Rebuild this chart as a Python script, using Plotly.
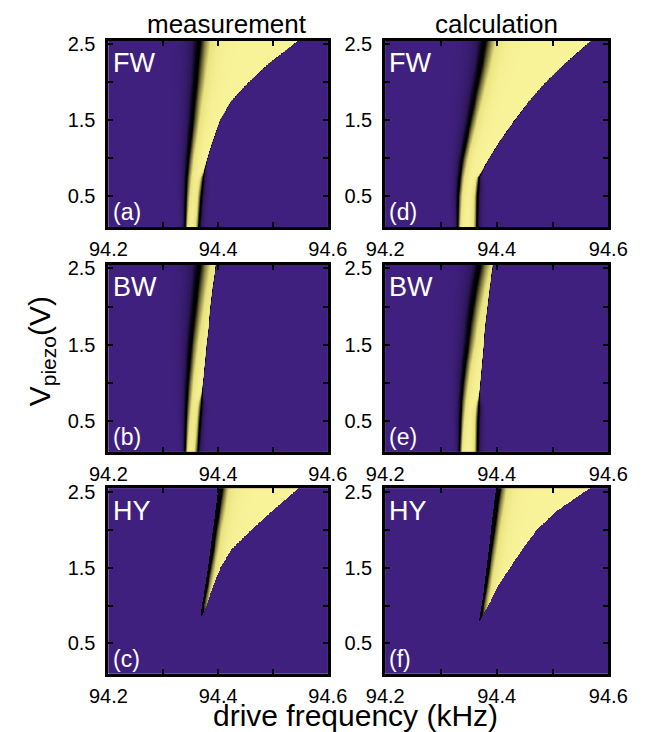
import numpy as np
import plotly.graph_objects as go

# ---------------- data ----------------
V_KNOTS = [0.1, 0.5, 0.75, 1.0, 1.25, 1.5, 1.75, 2.0, 2.25, 2.55]   # V_piezo (V)

# (a) forward sweep, measurement: centre of dark phase edge / jump frequency (kHz)
FW_MEAS_LEFT = [94.340, 94.342, 94.344, 94.347, 94.351, 94.355, 94.358, 94.362, 94.365, 94.369]
FW_MEAS_JUMP = [94.364, 94.368, 94.372, 94.380, 94.391, 94.403, 94.423, 94.455, 94.492, 94.546]
# (b) backward sweep, measurement
BW_MEAS_LEFT = [94.340, 94.342, 94.344, 94.346, 94.349, 94.352, 94.356, 94.360, 94.364, 94.369]
BW_MEAS_JUMP = [94.362, 94.366, 94.369, 94.372, 94.376, 94.379, 94.383, 94.386, 94.390, 94.396]
# (d) forward sweep, calculation
FW_CALC_LEFT = [94.331, 94.332, 94.335, 94.340, 94.347, 94.354, 94.361, 94.368, 94.375, 94.382]
FW_CALC_JUMP = [94.364, 94.365, 94.368, 94.386, 94.408, 94.432, 94.458, 94.488, 94.523, 94.570]
# (e) backward sweep, calculation
BW_CALC_LEFT = [94.334, 94.336, 94.338, 94.341, 94.345, 94.350, 94.354, 94.359, 94.365, 94.373]
BW_CALC_JUMP = [94.365, 94.366, 94.368, 94.371, 94.374, 94.377, 94.380, 94.384, 94.388, 94.394]

# (c) hysteresis region, measurement
HY_MEAS_V = [0.85, 1.0, 1.25, 1.5, 1.75, 2.0, 2.25, 2.55]
HY_MEAS_LEFT = [94.368, 94.370, 94.376, 94.381, 94.386, 94.390, 94.395, 94.400]
HY_MEAS_RIGHT = [94.369, 94.379, 94.390, 94.404, 94.425, 94.460, 94.498, 94.546]
# (f) hysteresis region, calculation
HY_CALC_V = [0.77, 1.0, 1.25, 1.5, 1.75, 2.0, 2.25, 2.55]
HY_CALC_LEFT = [94.368, 94.373, 94.378, 94.382, 94.386, 94.390, 94.394, 94.399]
HY_CALC_RIGHT = [94.368, 94.385, 94.402, 94.424, 94.447, 94.472, 94.508, 94.567]

ONSET_MEAS = 0.8
ONSET_CALC = 0.75

X_TICKS = [94.2, 94.4, 94.6]
X_MINOR = [94.3, 94.5]
Y_TICKS = [0.5, 1.5, 2.5]
Y_MINOR = [1.0, 2.0]
COL_TITLES = ["measurement", "calculation"]
SWEEP_LABELS = ["FW", "BW", "HY"]
PANEL_LETTERS = [["(a)", "(d)"], ["(b)", "(e)"], ["(c)", "(f)"]]

# ---------------- rendering grid ----------------
F = np.linspace(94.2, 94.6, 700)
V = np.linspace(0.1, 2.55, 300)
FF, VV = np.meshgrid(F, V)


def sig(x):
    return 1.0 / (1.0 + np.exp(-np.clip(x, -60, 60)))


def sweep_map(left, jump, onset):
    fl = np.interp(V, V_KNOTS, left)[:, None]
    fj = np.interp(V, V_KNOTS, jump)[:, None]
    w = (0.0025 + 0.0040 * V)[:, None]
    wr = (0.0004 + 0.0035 * sig((onset - V) / 0.05))[:, None]
    return sig((FF - fl) / w) * sig((fj - FF) / wr)


def hyst_map(hv, left, right):
    fl = np.interp(V, hv, left)[:, None]
    fr = np.interp(V, hv, right)[:, None]
    valid = (V >= hv[0])[:, None]
    d = (0.0028 * V)[:, None]
    w = (0.005 + 0.003 * V)[:, None]
    inside = (FF >= fl) & (FF <= fr) & valid
    z = 0.44 + 0.56 * (1 - np.exp(-np.maximum(FF - fl - d, 0) / w))
    fade = sig((V - hv[0] - 0.08) / 0.07)[:, None]
    z = 0.44 * (1 - fade) + z * fade
    return np.where(inside, z, 0.0)


Z = [
    [sweep_map(FW_MEAS_LEFT, FW_MEAS_JUMP, ONSET_MEAS), sweep_map(FW_CALC_LEFT, FW_CALC_JUMP, ONSET_CALC)],
    [sweep_map(BW_MEAS_LEFT, BW_MEAS_JUMP, ONSET_MEAS), sweep_map(BW_CALC_LEFT, BW_CALC_JUMP, ONSET_CALC)],
    [hyst_map(HY_MEAS_V, HY_MEAS_LEFT, HY_MEAS_RIGHT), hyst_map(HY_CALC_V, HY_CALC_LEFT, HY_CALC_RIGHT)],
]

PURPLE = "rgb(64,32,126)"
COLORSCALE = [
    [0.0, PURPLE],
    [0.22, "rgb(44,22,88)"],
    [0.38, "rgb(0,0,0)"],
    [0.48, "rgb(0,0,0)"],
    [0.62, "rgb(115,110,52)"],
    [0.8, "rgb(232,225,126)"],
    [1.0, "rgb(248,243,152)"],
]

W, H = 649, 732
XDOM = [[95 / W, 328 / W], [389 / W, 626 / W]]
YROWS = [(34, 222), (260, 449), (486, 673)]
YDOM = [[1 - b / H, 1 - t / H] for t, b in YROWS]

FONT = "Liberation Sans, Arial, Helvetica, sans-serif"

fig = go.Figure()
annotations = []
layout_axes = {}
idx = 0
for r in range(3):
    for c in range(2):
        idx += 1
        xa = "x" if idx == 1 else f"x{idx}"
        ya = "y" if idx == 1 else f"y{idx}"
        fig.add_trace(go.Heatmap(
            x=F, y=V, z=Z[r][c], xaxis=xa, yaxis=ya,
            zmin=0, zmax=1, colorscale=COLORSCALE, showscale=False,
            hoverinfo="skip",
        ))
        axcommon = dict(
            showline=True, linewidth=3, linecolor="black", mirror="allticks",
            ticks="inside", ticklen=5, tickwidth=2, tickcolor="black",
            showgrid=False, zeroline=False,
            tickfont=dict(family=FONT, size=20, color="black"),
        )
        layout_axes["xaxis" if idx == 1 else f"xaxis{idx}"] = dict(
            axcommon, domain=XDOM[c], range=[94.2, 94.6], anchor=ya,
            tickvals=X_TICKS, ticktext=[f"{t:.1f}" for t in X_TICKS],
            minor=dict(tickvals=X_MINOR, ticks="inside", ticklen=5, tickwidth=2, tickcolor="black"),
            ticklabelstandoff=2,
        )
        layout_axes["yaxis" if idx == 1 else f"yaxis{idx}"] = dict(
            axcommon, domain=YDOM[r], range=[0.1, 2.55], anchor=xa,
            tickvals=Y_TICKS, ticktext=[f"{t:.1f}" for t in Y_TICKS],
            minor=dict(tickvals=Y_MINOR, ticks="inside", ticklen=5, tickwidth=2, tickcolor="black"),
            ticklabelstandoff=6,
        )
        annotations.append(dict(
            xref=f"{xa} domain", yref=f"{ya} domain", x=0.01, y=0.97,
            xanchor="left", yanchor="top", showarrow=False,
            text=SWEEP_LABELS[r], font=dict(family=FONT, size=27, color="white"),
        ))
        annotations.append(dict(
            xref=f"{xa} domain", yref=f"{ya} domain", x=0.01, y=0.0,
            xanchor="left", yanchor="bottom", showarrow=False,
            text=PANEL_LETTERS[r][c], font=dict(family=FONT, size=23, color="white"),
        ))

annotations.append(dict(xref="paper", yref="paper", x=221 / W, y=1 - 17 / H,
                        xanchor="center", yanchor="middle", showarrow=False,
                        text=COL_TITLES[0], font=dict(family=FONT, size=26, color="black")))
annotations.append(dict(xref="paper", yref="paper", x=507 / W, y=1 - 17 / H,
                        xanchor="center", yanchor="middle", showarrow=False,
                        text=COL_TITLES[1], font=dict(family=FONT, size=26, color="black")))
annotations.append(dict(xref="paper", yref="paper", x=357 / W, y=1 - 715 / H,
                        xanchor="center", yanchor="middle", showarrow=False,
                        text="drive frequency (kHz)", font=dict(family=FONT, size=30, color="black")))
annotations.append(dict(xref="paper", yref="paper", x=24 / W, y=1 - 348 / H,
                        xanchor="center", yanchor="middle", showarrow=False, textangle=-90,
                        text="V<sub>piezo</sub>(V)", font=dict(family=FONT, size=30, color="black")))

fig.update_layout(
    width=W, height=H, autosize=False,
    margin=dict(l=0, r=0, t=0, b=0),
    paper_bgcolor="white", plot_bgcolor=PURPLE,
    showlegend=False, annotations=annotations,
    **layout_axes,
)

fig.write_html(
    "out.html",
    config={"displayModeBar": False},
    post_script="document.body.style.margin='0';document.body.style.padding='0';"
                "document.documentElement.style.overflow='hidden';",
)
